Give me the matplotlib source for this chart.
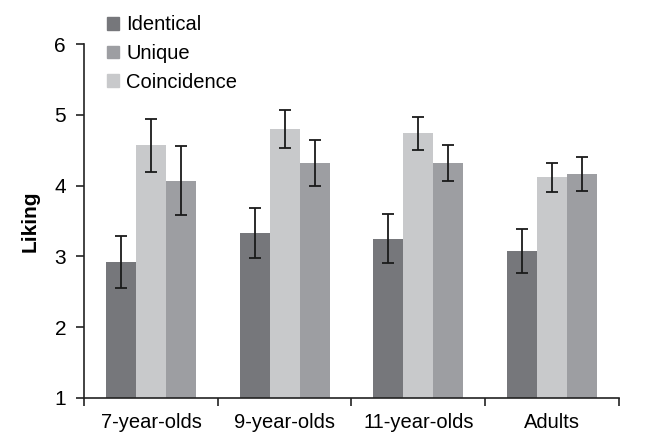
import numpy as np
import matplotlib.pyplot as plt
from matplotlib.patches import Patch

plt.rcParams['font.family'] = ['Liberation Sans', 'DejaVu Sans']

groups = ['7-year-olds', '9-year-olds', '11-year-olds', 'Adults']

# means and error half-widths for each condition
identical = [2.92, 3.33, 3.25, 3.07]
identical_err = [0.37, 0.36, 0.35, 0.31]
coincidence = [4.57, 4.80, 4.74, 4.12]
coincidence_err = [0.375, 0.265, 0.235, 0.205]
unique = [4.07, 4.32, 4.32, 4.16]
unique_err = [0.485, 0.32, 0.255, 0.24]

c_identical = '#76777b'
c_unique = '#9d9ea2'
c_coincidence = '#c8c9cb'

fig = plt.figure(figsize=(6.52, 4.32), dpi=100)
ax = fig.add_axes([0.129, 0.0794, 0.820, 0.818])

x = np.arange(len(groups)) + 0.5
w = 0.224
err_kw = dict(ecolor='#1a1a1a', elinewidth=1.3, capsize=4.3, capthick=1.3)

# bars drawn in order Identical / Coincidence / Unique
ax.bar(x - w, np.array(identical) - 1, w, bottom=1, color=c_identical,
       yerr=identical_err, error_kw=err_kw)
ax.bar(x, np.array(coincidence) - 1, w, bottom=1, color=c_coincidence,
       yerr=coincidence_err, error_kw=err_kw)
ax.bar(x + w, np.array(unique) - 1, w, bottom=1, color=c_unique,
       yerr=unique_err, error_kw=err_kw)

ax.set_xlim(0, 4)
ax.set_ylim(1, 6)
ax.set_yticks([1, 2, 3, 4, 5, 6])
ax.set_xticks(np.arange(0, 5))
ax.set_xticklabels([])
ax.set_xticks(x, minor=True)
ax.set_xticklabels(groups, minor=True, fontsize=14.5)
ax.tick_params(axis='x', which='minor', length=0, pad=11)
ax.tick_params(axis='x', which='major', length=6, width=1.2, color='#222222')
ax.tick_params(axis='y', labelsize=15, length=6, width=1.2, color='#222222', pad=7)

for side in ['top', 'right']:
    ax.spines[side].set_visible(False)
for side in ['left', 'bottom']:
    ax.spines[side].set_linewidth(1.2)
    ax.spines[side].set_color('#222222')

ax.set_ylabel('Liking', fontsize=15, fontweight='bold', labelpad=11)

handles = [Patch(color=c_identical, label='Identical'),
           Patch(color=c_unique, label='Unique'),
           Patch(color=c_coincidence, label='Coincidence')]
fig.legend(handles=handles, loc='upper left', bbox_to_anchor=(0.147, 0.99),
           frameon=False, fontsize=14.5, handlelength=0.6, handleheight=0.6,
           handletextpad=0.35, labelspacing=0.48, borderaxespad=0.15)

fig.savefig('out.png', dpi=100)
